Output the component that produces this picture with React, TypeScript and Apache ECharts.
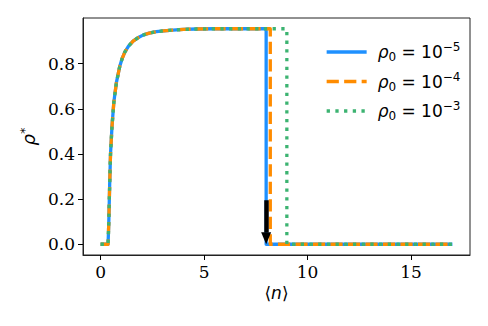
import React, { useEffect, useRef } from 'react';
import * as echarts from 'echarts';

// rise of rho* with <n> (shared by the three runs)
const riseN = [0, 0.36, 0.38, 0.40, 0.44, 0.48, 0.55, 0.64, 0.77, 0.93, 1.05, 1.17, 1.35, 1.57, 1.8, 2.05, 2.35, 2.69, 3.05, 3.49, 4.0, 4.62, 5.5, 6.5, 7.5];
const riseRho = [0, 0, 0.05, 0.11, 0.27, 0.40, 0.52, 0.63, 0.72, 0.79, 0.825, 0.852, 0.878, 0.900, 0.915, 0.927, 0.936, 0.942, 0.946, 0.949, 0.952, 0.954, 0.955, 0.955, 0.955];
const plateauRho = 0.955;
const endN = 17;

const seriesNames = ['rho0=1e-5', 'rho0=1e-4', 'rho0=1e-3'];
const exponents = ['−5', '−4', '−3'];
const dropN = [8.0, 8.2, 9.0];

const xTicks = [0, 5, 10, 15];
const yTicks = [0, 0.2, 0.4, 0.6, 0.8];

const arrowN = 8.0;
const arrowTop = 0.195;
const arrowHeadBase = 0.052;
const arrowHeadCenter = 0.0266;

const colors = ['#1e90ff', '#ff8c00', '#3cb371'];
const dashes: any[] = ['solid', [12.2, 5.3], [3.3, 5.4]];

function buildData(drop: number) {
  const pts: number[][] = [];
  riseN.forEach((n, i) => {
    if (n < drop) pts.push([n, riseRho[i]]);
  });
  pts.push([drop, plateauRho]);
  pts.push([drop, 0]);
  pts.push([endN, 0]);
  return pts;
}

export default function App() {
  const ref = useRef<HTMLDivElement>(null);
  useEffect(() => {
    if (!ref.current) return;
    const chart = echarts.init(ref.current, null, { renderer: 'svg' });
    const tickFont = { fontFamily: 'DejaVu Serif', fontSize: 17, color: '#000' };
    const series: any[] = seriesNames.map((name, i) => ({
      name,
      type: 'line',
      symbol: 'none',
      showSymbol: false,
      data: buildData(dropN[i]),
      lineStyle: { width: 3.3, color: colors[i], type: dashes[i], cap: 'butt', join: 'round' },
      itemStyle: { color: colors[i] },
      z: 2 + i,
    }));
    series[2].markLine = {
      silent: true,
      symbol: ['none', 'none'],
      label: { show: false },
      lineStyle: { color: '#000', width: 4.5, type: 'solid', cap: 'butt' },
      data: [[{ coord: [arrowN, arrowTop] }, { coord: [arrowN, arrowHeadBase] }]],
      z: 10,
    };
    series[2].markPoint = {
      silent: true,
      symbol: 'path://M0 0L10 0L5 12Z',
      symbolSize: [10, 12],
      label: { show: false },
      itemStyle: { color: '#000' },
      data: [{ coord: [arrowN, arrowHeadCenter] }],
      z: 10,
    };

    chart.setOption({
      animation: false,
      backgroundColor: '#fff',
      grid: {
        left: 83, right: 18, top: 18, bottom: 71,
        show: true, borderColor: '#222', borderWidth: 1, backgroundColor: 'transparent',
      },
      legend: {
        orient: 'vertical',
        left: 320,
        top: 36,
        itemWidth: 40,
        itemHeight: 2,
        itemGap: 7.5,
        selectedMode: false,
        data: seriesNames,
        lineStyle: { width: 3.3 },
        itemStyle: { opacity: 0 },
        formatter: (name: string) => {
          const i = seriesNames.indexOf(name);
          return `{r|ρ}{sub|0}{m| = 10}{sup|${exponents[i]}}`;
        },
        textStyle: {
          fontFamily: 'DejaVu Sans',
          fontSize: 17,
          color: '#000',
          lineHeight: 22,
          rich: {
            r: { fontFamily: 'DejaVu Sans', fontStyle: 'italic', fontSize: 17, lineHeight: 22, color: '#000', padding: [0, 0, 0, 6] },
            sub: { fontFamily: 'DejaVu Sans', fontSize: 12, lineHeight: 14, verticalAlign: 'bottom', color: '#000' },
            m: { fontFamily: 'DejaVu Sans', fontSize: 17, lineHeight: 22, color: '#000' },
            sup: { fontFamily: 'DejaVu Sans', fontSize: 12, lineHeight: 12, verticalAlign: 'top', color: '#000' },
          },
        },
      },
      xAxis: {
        type: 'value',
        min: -0.85,
        max: 17.85,
        name: '{a|⟨}{n|n}{a|⟩}',
        nameLocation: 'middle',
        nameGap: 28,
        nameTextStyle: {
          rich: {
            a: { fontFamily: 'DejaVu Sans', fontSize: 17, lineHeight: 20, color: '#000' },
            n: { fontFamily: 'DejaVu Sans', fontStyle: 'italic', fontSize: 17, lineHeight: 20, color: '#000' },
          },
        },
        splitLine: { show: false },
        axisLine: { show: true, onZero: false, lineStyle: { color: '#222', width: 1 } },
        axisTick: { show: true, length: 5, lineStyle: { color: '#000', width: 1 }, customValues: xTicks },
        axisLabel: { ...tickFont, margin: 8, customValues: xTicks, formatter: (v: number) => String(v) },
      },
      yAxis: {
        type: 'value',
        min: -0.04775,
        max: 1.00275,
        name: '{r|ρ}{s|*}',
        nameLocation: 'middle',
        nameGap: 44,
        nameRotate: 90,
        nameTextStyle: {
          rich: {
            r: { fontFamily: 'DejaVu Sans', fontStyle: 'italic', fontSize: 18, lineHeight: 20, color: '#000' },
            s: { fontFamily: 'DejaVu Sans', fontSize: 13, lineHeight: 12, verticalAlign: 'top', color: '#000' },
          },
        },
        splitLine: { show: false },
        axisLine: { show: true, onZero: false, lineStyle: { color: '#222', width: 1 } },
        axisTick: { show: true, length: 5, lineStyle: { color: '#000', width: 1 }, customValues: yTicks },
        axisLabel: { ...tickFont, margin: 8, customValues: yTicks, formatter: (v: number) => v.toFixed(1) },
      },
      series,
    });
    return () => chart.dispose();
  }, []);
  return (
    <div
      ref={ref}
      style={{ position: 'fixed', left: 0, top: 0, width: 488, height: 326, background: '#fff' }}
    />
  );
}
